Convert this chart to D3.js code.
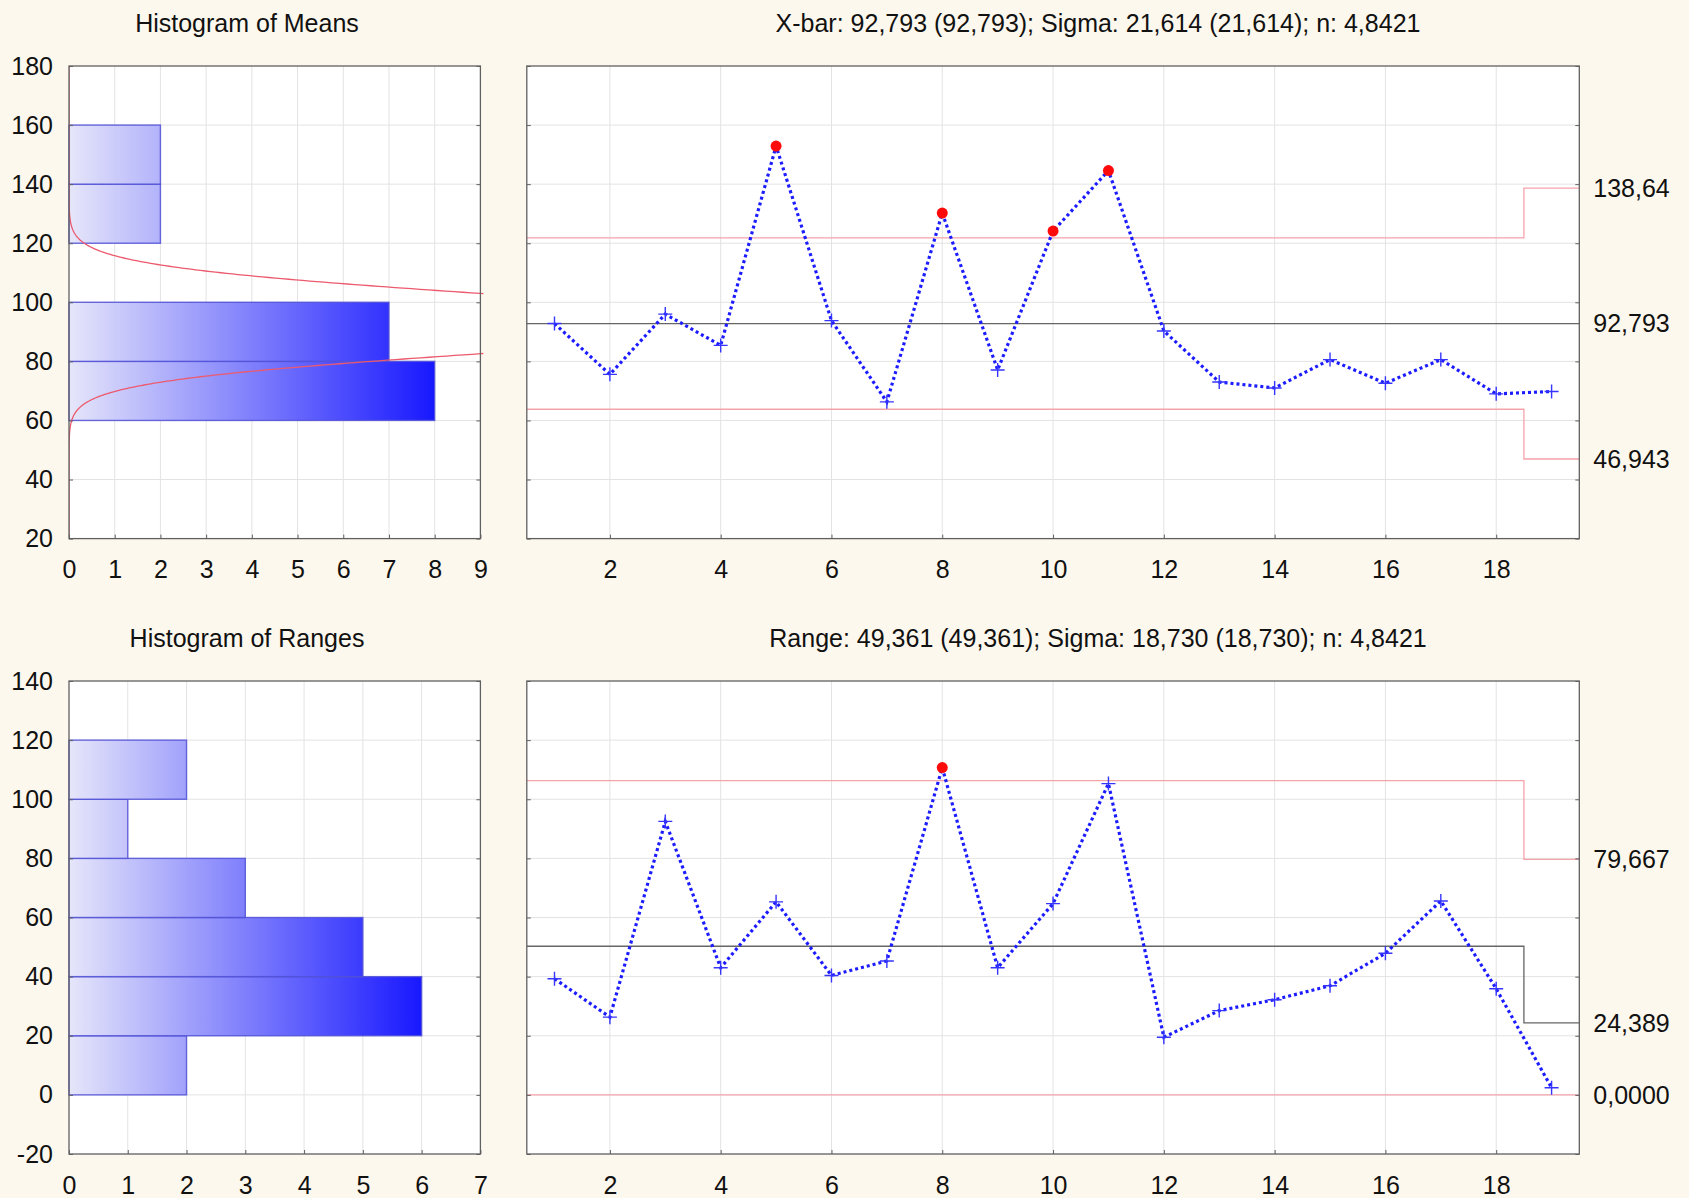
<!DOCTYPE html>
<html lang="en">
<head>
<meta charset="UTF-8" />
<title>X-bar and R Chart</title>
<script src="https://d3js.org/d3.v7.min.js"></script>
<style>
  body { margin: 0; background: #fdf8ed; }
  svg { display: block; font-family: "Liberation Sans", Arial, sans-serif; }
</style>
</head>
<body>
<svg id="chart" width="1689" height="1198"></svg>
<script>
// ---- data ----
const sampleIds = [1, 2, 3, 4, 5, 6, 7, 8, 9, 10, 11, 12, 13, 14, 15, 16, 17, 18, 19];
const sampleMeans = [92.8, 75.6, 96.0, 85.4, 152.9, 93.8, 66.3, 130.2, 77.1, 124.1,
                     144.6, 90.3, 73.0, 71.0, 80.6, 72.6, 80.6, 69.0, 69.8];
const sampleRanges = [39.3, 26.3, 92.5, 43.0, 65.3, 40.4, 45.3, 110.7, 43.0, 64.7,
                      105.3, 19.5, 28.5, 32.2, 36.9, 47.9, 65.6, 35.9, 2.4];

// control limits, one value per segment (samples 1-18 and sample 19)
const limitBreaks = [0.5, 18.5, 19.5];
const xbarUCL = [121.78, 138.64];
const xbarCL = [92.793, 92.793];
const xbarLCL = [63.80, 46.943];
const rangeUCL = [106.28, 79.667];
const rangeCL = [50.27, 24.389];
const rangeLCL = [0, 0];
const xbarLimitLabels = ["138,64", "92,793", "46,943"];
const rangeLimitLabels = ["79,667", "24,389", "0,0000"];

// histograms
const meanBins = [60, 80, 100, 120, 140, 160];
const meanCounts = [8, 7, 0, 2, 2];
const rangeBins = [0, 20, 40, 60, 80, 100, 120];
const rangeCounts = [2, 6, 5, 3, 1, 2];

const meanTicks = [20, 40, 60, 80, 100, 120, 140, 160, 180];
const rangeTicks = [-20, 0, 20, 40, 60, 80, 100, 120, 140];
const ctrlXTicks = [2, 4, 6, 8, 10, 12, 14, 16, 18];

const grandMean = 92.793, sigma = 21.614, avgN = 4.8421, nSamples = 19;

const titles = {
  meanHist: "Histogram of Means",
  rangeHist: "Histogram of Ranges",
  xbar: "X-bar: 92,793 (92,793); Sigma: 21,614 (21,614); n: 4,8421",
  range: "Range: 49,361 (49,361); Sigma: 18,730 (18,730); n: 4,8421"
};

// ---- layout ----
const svg = d3.select("#chart");
const rows = { top: [66, 538.6], bottom: [681, 1154] };
const histX = [69, 480.4];
const ctrlX = [526.8, 1579.3];
const fontSize = 25;
const gridColor = "#e3e3e3";
const frameColor = "#606060";

const defs = svg.append("defs");

function addGradient(id, x0, x1) {
  const g = defs.append("linearGradient")
    .attr("id", id)
    .attr("gradientUnits", "userSpaceOnUse")
    .attr("x1", x0).attr("x2", x1).attr("y1", 0).attr("y2", 0);
  g.append("stop").attr("offset", "0%").attr("stop-color", "#e6e6fa");
  g.append("stop").attr("offset", "100%").attr("stop-color", "#1818ff");
}

function frame(g, x, y) {
  g.append("rect")
    .attr("x", x.range()[0]).attr("y", y.range()[1])
    .attr("width", x.range()[1] - x.range()[0])
    .attr("height", y.range()[0] - y.range()[1])
    .attr("fill", "none").attr("stroke", frameColor).attr("stroke-width", 1.3);
}

function styleAxis(a) {
  a.select(".domain").remove();
  a.selectAll(".tick line").attr("stroke", frameColor);
  a.selectAll("text")
    .attr("fill", "#111")
    .style("font-size", fontSize + "px");
}

function drawHistogram(opts) {
  const [top, bottom] = opts.row;
  const y = d3.scaleLinear().domain(d3.extent(opts.yTicks)).range([bottom, top]);
  const x = d3.scaleLinear().domain([0, opts.xMax]).range(histX);
  const g = svg.append("g");

  g.append("rect")
    .attr("x", histX[0]).attr("y", top)
    .attr("width", histX[1] - histX[0]).attr("height", bottom - top)
    .attr("fill", "#fff");

  g.append("g").selectAll("line").data(d3.range(1, opts.xMax)).join("line")
    .attr("x1", d => x(d)).attr("x2", d => x(d))
    .attr("y1", top).attr("y2", bottom)
    .attr("stroke", gridColor);
  g.append("g").selectAll("line").data(opts.yTicks.slice(1, -1)).join("line")
    .attr("x1", histX[0]).attr("x2", histX[1])
    .attr("y1", d => y(d)).attr("y2", d => y(d))
    .attr("stroke", gridColor);

  addGradient(opts.gradId, x(0), x(d3.max(opts.counts)));
  const bars = opts.counts.map((c, i) => ({ c, lo: opts.bins[i], hi: opts.bins[i + 1] }))
    .filter(d => d.c > 0);
  g.append("g").selectAll("rect").data(bars).join("rect")
    .attr("x", x(0))
    .attr("y", d => y(d.hi))
    .attr("width", d => x(d.c) - x(0))
    .attr("height", d => y(d.lo) - y(d.hi))
    .attr("fill", `url(#${opts.gradId})`)
    .attr("stroke", "#5050d6")
    .attr("stroke-opacity", 0.85)
    .attr("stroke-width", 1.4);

  if (opts.curve) {
    const clipId = opts.gradId + "-clip";
    defs.append("clipPath").attr("id", clipId).append("rect")
      .attr("x", histX[0]).attr("y", top)
      .attr("width", histX[1] - histX[0] + 3).attr("height", bottom - top);
    const s = opts.curve.sigma;
    const scale = opts.curve.n * opts.curve.binWidth / (s * Math.sqrt(2 * Math.PI));
    const pts = d3.range(y.domain()[0], y.domain()[1] + 0.01, 0.2)
      .map(v => [v, scale * Math.exp(-((v - opts.curve.mean) ** 2) / (2 * s * s))]);
    g.append("path")
      .datum(pts)
      .attr("clip-path", `url(#${clipId})`)
      .attr("fill", "none")
      .attr("stroke", "#ec5a6e")
      .attr("stroke-width", 1.3)
      .attr("d", d3.line().x(d => x(d[1])).y(d => y(d[0])));
  }

  frame(g, x, y);

  g.append("g").attr("transform", `translate(0,${bottom})`)
    .call(d3.axisBottom(x).ticks(opts.xMax).tickSize(-4).tickPadding(22).tickFormat(d3.format("d")))
    .call(styleAxis);
  g.append("g").attr("transform", `translate(${histX[0]},0)`)
    .call(d3.axisLeft(y).tickValues(opts.yTicks).tickSize(-4).tickPadding(16).tickFormat(d3.format("d")))
    .call(styleAxis)
    .selectAll("text").text(d => d < 0 ? "-" + Math.abs(d) : d);
  g.append("g").attr("transform", `translate(${histX[1]},0)`)
    .call(d3.axisRight(y).tickValues(opts.yTicks).tickSize(-4).tickFormat(""))
    .call(styleAxis);

  svg.append("text")
    .attr("x", 247).attr("y", top - 43).attr("dy", "0.35em")
    .attr("text-anchor", "middle")
    .style("font-size", fontSize + "px").attr("fill", "#111")
    .text(opts.title);
}

function drawControl(opts) {
  const [top, bottom] = opts.row;
  const y = d3.scaleLinear().domain(d3.extent(opts.yTicks)).range([bottom, top]);
  const x = d3.scaleLinear().domain([limitBreaks[0], limitBreaks[2]]).range(ctrlX);
  const g = svg.append("g");

  g.append("rect")
    .attr("x", ctrlX[0]).attr("y", top)
    .attr("width", ctrlX[1] - ctrlX[0]).attr("height", bottom - top)
    .attr("fill", "#fff");

  g.append("g").selectAll("line").data(ctrlXTicks).join("line")
    .attr("x1", d => x(d)).attr("x2", d => x(d))
    .attr("y1", top).attr("y2", bottom)
    .attr("stroke", gridColor);
  g.append("g").selectAll("line").data(opts.yTicks.slice(1, -1)).join("line")
    .attr("x1", ctrlX[0]).attr("x2", ctrlX[1])
    .attr("y1", d => y(d)).attr("y2", d => y(d))
    .attr("stroke", gridColor);

  const step = d3.line().x(d => x(d[0])).y(d => y(d[1])).curve(d3.curveStepAfter);
  const stepPts = vals => [[limitBreaks[0], vals[0]], [limitBreaks[1], vals[1]], [limitBreaks[2], vals[1]]];
  [[opts.ucl, "#f5a3ab"], [opts.lcl, "#f5a3ab"], [opts.cl, "#666"]].forEach(([vals, col]) => {
    g.append("path").datum(stepPts(vals))
      .attr("fill", "none").attr("stroke", col).attr("stroke-width", 1.3)
      .attr("d", step);
  });

  const seg = i => (sampleIds[i] > limitBreaks[1] ? 1 : 0);
  const pts = sampleIds.map((id, i) => ({
    id, v: opts.values[i],
    out: opts.values[i] > opts.ucl[seg(i)] || opts.values[i] < opts.lcl[seg(i)]
  }));

  g.append("path").datum(pts)
    .attr("fill", "none")
    .attr("stroke", "#1c1cff")
    .attr("stroke-width", 3.2)
    .attr("stroke-dasharray", "3,3")
    .attr("d", d3.line().x(d => x(d.id)).y(d => y(d.v)));

  g.append("g").selectAll("path").data(pts.filter(d => !d.out)).join("path")
    .attr("fill", "none").attr("stroke", "#3535ff").attr("stroke-width", 1.4)
    .attr("d", d => {
      const cx = x(d.id), cy = y(d.v);
      return `M${cx - 7},${cy}H${cx + 7}M${cx},${cy - 7}V${cy + 7}`;
    });
  g.append("g").selectAll("circle").data(pts.filter(d => d.out)).join("circle")
    .attr("cx", d => x(d.id)).attr("cy", d => y(d.v)).attr("r", 5.5)
    .attr("fill", "#ff0a0a");

  frame(g, x, y);

  g.append("g").attr("transform", `translate(0,${bottom})`)
    .call(d3.axisBottom(x).tickValues(ctrlXTicks).tickSize(-4).tickPadding(22))
    .call(styleAxis);
  g.append("g").attr("transform", `translate(${ctrlX[0]},0)`)
    .call(d3.axisLeft(y).tickValues(opts.yTicks).tickSize(-4).tickFormat(""))
    .call(styleAxis);
  g.append("g").attr("transform", `translate(${ctrlX[1]},0)`)
    .call(d3.axisRight(y).tickValues(opts.yTicks).tickSize(-4).tickFormat(""))
    .call(styleAxis);

  const lastVals = [opts.ucl[1], opts.cl[1], opts.lcl[1]];
  g.append("g").selectAll("text").data(opts.labels).join("text")
    .attr("x", ctrlX[1] + 14)
    .attr("y", (d, i) => y(lastVals[i]))
    .attr("dy", "0.35em")
    .style("font-size", fontSize + "px").attr("fill", "#111")
    .text(d => d);

  svg.append("text")
    .attr("x", 1098).attr("y", top - 43).attr("dy", "0.35em")
    .attr("text-anchor", "middle")
    .style("font-size", fontSize + "px").attr("fill", "#111")
    .text(opts.title);
}

drawHistogram({
  row: rows.top, yTicks: meanTicks, xMax: 9,
  bins: meanBins, counts: meanCounts, gradId: "gradMeans",
  curve: { mean: grandMean, sigma: sigma / Math.sqrt(avgN), n: nSamples, binWidth: 20 },
  title: titles.meanHist
});
drawHistogram({
  row: rows.bottom, yTicks: rangeTicks, xMax: 7,
  bins: rangeBins, counts: rangeCounts, gradId: "gradRanges",
  title: titles.rangeHist
});
drawControl({
  row: rows.top, yTicks: meanTicks, values: sampleMeans,
  ucl: xbarUCL, cl: xbarCL, lcl: xbarLCL, labels: xbarLimitLabels,
  title: titles.xbar
});
drawControl({
  row: rows.bottom, yTicks: rangeTicks, values: sampleRanges,
  ucl: rangeUCL, cl: rangeCL, lcl: rangeLCL, labels: rangeLimitLabels,
  title: titles.range
});
</script>
</body>
</html>
